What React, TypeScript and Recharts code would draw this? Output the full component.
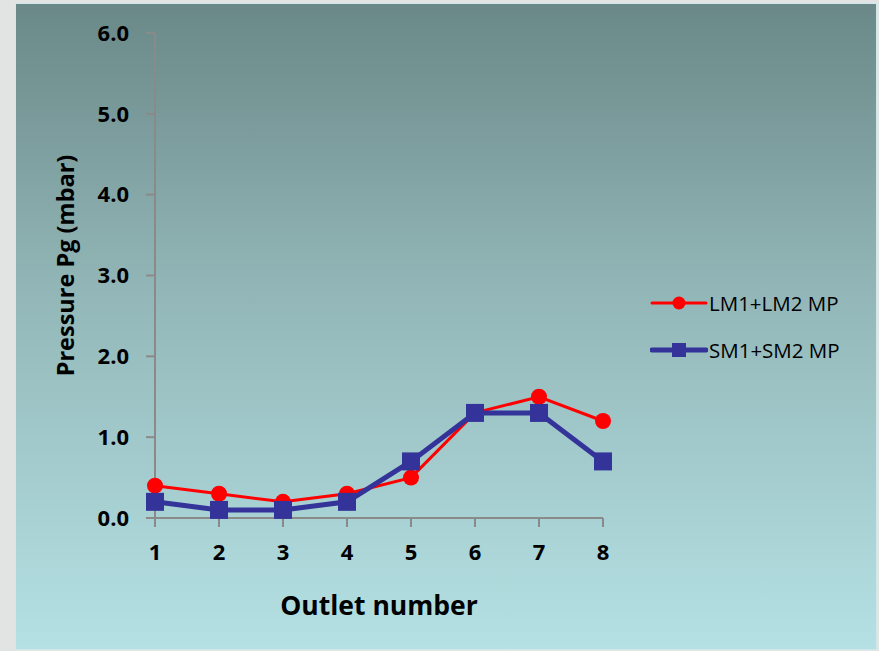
import React from "react";
import { LineChart, Line, XAxis, YAxis, Label } from "recharts";

const outlets = ["1", "2", "3", "4", "5", "6", "7", "8"];
const lmValues = [0.4, 0.3, 0.2, 0.3, 0.5, 1.3, 1.5, 1.2];
const smValues = [0.2, 0.1, 0.1, 0.2, 0.7, 1.3, 1.3, 0.7];
const yTicks = [0, 1, 2, 3, 4, 5, 6];

const LM_NAME = "LM1+LM2 MP";
const SM_NAME = "SM1+SM2 MP";
const RED = "#ff0000";
const BLUE = "#333399";
const FONT = "'Open Sans', sans-serif";

const data = outlets.map((o, i) => ({
  outlet: o,
  lm: lmValues[i],
  sm: smValues[i],
}));

function SquareDot(props: any) {
  const { cx, cy, size = 18, fill = BLUE } = props;
  if (cx == null || cy == null) return null;
  return (
    <rect x={cx - size / 2} y={cy - size / 2} width={size} height={size} fill={fill} />
  );
}

// rotated y title, nudged a little above the axis middle like the original
function YTitle(props: any) {
  const vb = props.viewBox || {};
  const x = (vb.x ?? 0) + 49;
  const y = (vb.y ?? 0) + (vb.height ?? 0) / 2 - 10;
  return (
    <text
      x={x}
      y={y}
      transform={`rotate(-90, ${x}, ${y})`}
      textAnchor="middle"
      dominantBaseline="central"
      style={{ fill: "#000", fontSize: 23.5, fontWeight: 700, fontFamily: FONT }}
    >
      Pressure Pg (mbar)
    </text>
  );
}

function LegendBox() {
  const rows = [
    { name: LM_NAME, color: RED, width: 3, square: false },
    { name: SM_NAME, color: BLUE, width: 5, square: true },
  ];
  return (
    <div style={{ fontFamily: FONT, fontSize: 20.5, color: "#000" }}>
      {rows.map((r) => (
        <div
          key={r.name}
          style={{ display: "flex", alignItems: "center", height: 47 }}
        >
          <svg width={58} height={20} style={{ marginRight: 1 }}>
            <line
              x1={2}
              y1={10}
              x2={56}
              y2={10}
              stroke={r.color}
              strokeWidth={r.width}
              strokeLinecap="round"
            />
            {r.square ? (
              <rect x={22} y={3} width={14} height={14} fill={r.color} />
            ) : (
              <circle cx={29} cy={10} r={6.5} fill={r.color} />
            )}
          </svg>
          <span>{r.name}</span>
        </div>
      ))}
    </div>
  );
}

export default function App() {
  return (
    <div
      style={{
        position: "absolute",
        left: 0,
        top: 0,
        width: 879,
        height: 651,
        background: "#e2e4e4",
      }}
    >
      <div
        style={{
          position: "absolute",
          left: 15,
          top: 3,
          width: 860,
          height: 645,
          border: "1px solid #cfe9ea",
          background: "linear-gradient(180deg, #6a8888 0%, #93b7b8 45%, #b5e1e4 100%)",
        }}
      >
        <LineChart
          width={860}
          height={645}
          data={data}
          margin={{ top: 29, right: 273, left: 0, bottom: 0 }}
        >
          <XAxis
            dataKey="outlet"
            scale="point"
            padding={{ left: 0, right: 0 }}
            height={131}
            axisLine={{ stroke: "#8a8a8a", strokeWidth: 2 }}
            tickLine={{ stroke: "#8a8a8a", strokeWidth: 2 }}
            tickSize={9}
            tickMargin={17}
            tick={{ fill: "#000", fontSize: 22, fontWeight: 700, fontFamily: FONT }}
          >
            <Label
              value="Outlet number"
              position="insideBottom"
              offset={34}
              style={{ fill: "#000", fontSize: 26.5, fontWeight: 700, fontFamily: FONT }}
            />
          </XAxis>
          <YAxis
            domain={[0, 6]}
            ticks={yTicks}
            interval={0}
            width={139}
            tickFormatter={(v: number) => v.toFixed(1)}
            axisLine={{ stroke: "#8a8a8a", strokeWidth: 2 }}
            tickLine={{ stroke: "#8a8a8a", strokeWidth: 2 }}
            tickSize={9}
            tickMargin={17}
            tick={{ fill: "#000", fontSize: 22, fontWeight: 700, fontFamily: FONT }}
          >
            <Label content={(p: any) => <YTitle {...p} />} />
          </YAxis>
          <Line
            name={LM_NAME}
            dataKey="lm"
            stroke={RED}
            strokeWidth={3}
            dot={{ r: 8, fill: RED, stroke: RED, strokeWidth: 0 }}
            activeDot={false}
            isAnimationActive={false}
          />
          <Line
            name={SM_NAME}
            dataKey="sm"
            stroke={BLUE}
            strokeWidth={5}
            dot={<SquareDot size={18} fill={BLUE} />}
            activeDot={false}
            isAnimationActive={false}
          />
        </LineChart>
        <div style={{ position: "absolute", left: 634, top: 275 }}>
          <LegendBox />
        </div>
      </div>
    </div>
  );
}
